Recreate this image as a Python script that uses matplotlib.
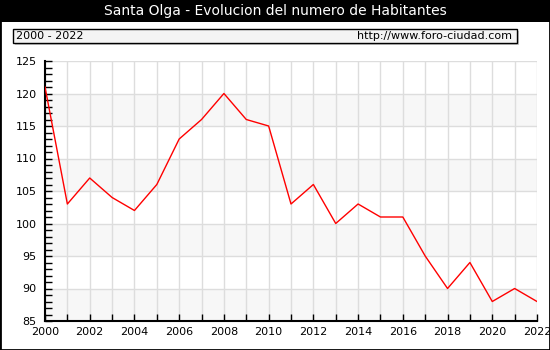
import matplotlib.pyplot as plt
from matplotlib.patches import Rectangle

years = list(range(2000, 2023))
habitantes = [121, 103, 107, 104, 102, 106, 113, 116, 120, 116, 115, 103,
              106, 100, 103, 101, 101, 95, 90, 94, 88, 90, 88]
yticks = [85, 90, 95, 100, 105, 110, 115, 120, 125]
xticks = list(range(2000, 2023, 2))

W, H = 550, 350
fig = plt.figure(figsize=(5.5, 3.5), dpi=100)
fig.patch.set_facecolor("white")

# black header with title
fig.patches.append(Rectangle((0, 1 - 22 / H), 1, 22 / H, transform=fig.transFigure,
                             facecolor="black", edgecolor="none", zorder=0))
fig.text(0.5, 1 - 11 / H, "Santa Olga - Evolucion del numero de Habitantes",
         color="white", ha="center", va="center", fontsize=10)

# sub header box
fig.patches.append(Rectangle((15 / W, 1 - 45 / H), 504 / W, 14 / H, transform=fig.transFigure,
                             facecolor="#c8c8c8", edgecolor="none", zorder=0))
fig.patches.append(Rectangle((13 / W, 1 - 43 / H), 504 / W, 14 / H, transform=fig.transFigure,
                             facecolor="#f4f4f4", edgecolor="black", linewidth=1, zorder=1))
fig.text(16 / W, 1 - 36 / H, "2000 - 2022", ha="left", va="center", fontsize=8)
fig.text(512 / W, 1 - 36 / H, "http://www.foro-ciudad.com", ha="right", va="center", fontsize=8)

# outer frame
fig.patches.append(Rectangle((0, 0), 1, 1, transform=fig.transFigure, facecolor="none",
                             edgecolor="black", linewidth=2, zorder=5))

ax = fig.add_axes([45 / W, 1 - 321 / H, 492 / W, 260 / H])
ax.set_xlim(2000, 2022)
ax.set_ylim(85, 125)

# alternating bands
for lo in range(85, 125, 10):
    ax.axhspan(lo, lo + 5, color="#f7f7f7", zorder=0, linewidth=0)

for y in yticks:
    ax.axhline(y, color="#dddddd", linewidth=1, zorder=1)
for x in years:
    ax.axvline(x, color="#dddddd", linewidth=1, zorder=1)

ax.plot(years, habitantes, color="red", linewidth=1, zorder=3)

ax.set_yticks(yticks)
ax.set_yticks(range(85, 126), minor=True)
ax.set_xticks(xticks)
ax.set_xticks(years, minor=True)
ax.tick_params(axis="both", which="both", direction="in", length=5, width=1,
               labelsize=8, color="black")
ax.tick_params(axis="y", pad=6)
ax.tick_params(axis="x", pad=4)
ax.spines["top"].set_visible(False)
ax.spines["right"].set_visible(False)
ax.spines["left"].set_linewidth(1.5)
ax.spines["bottom"].set_linewidth(1.5)

fig.savefig("out.png", dpi=100)
